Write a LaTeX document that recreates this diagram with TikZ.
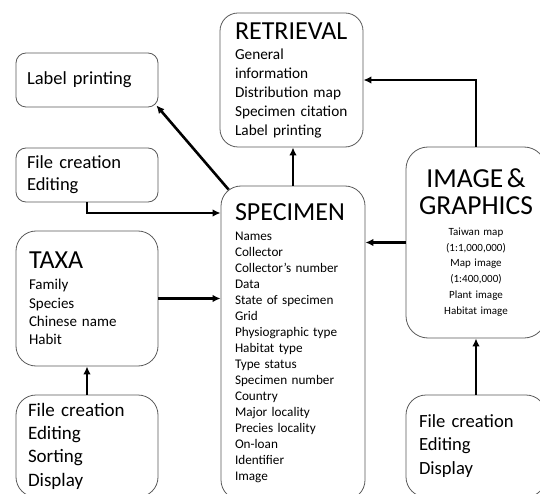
\documentclass[tikz,border=0pt]{standalone}
\usepackage{fontspec}
\setmainfont{Carlito}
\usetikzlibrary{arrows.meta}
\newcommand\boxhead[1]{{\fontsize{26pt}{26pt}\selectfont #1}}
\newcommand\imghead[1]{{\fontsize{27.5pt}{28pt}\selectfont #1}}

\begin{document}
\begin{tikzpicture}[x=1pt,y=-1pt,
        box/.style={draw=black!65,line width=0.8pt,rounded corners=#1,inner sep=0pt,align=left},
        box/.default=10pt,
        arr/.style={line width=2.6pt,-{Latex[length=8pt,width=7.5pt]}}]
        \useasboundingbox (0,0) rectangle (540,494);
        \clip (0,0) rectangle (540,494);
        % left column
        \node[box,minimum width=142pt,minimum height=54pt,text width=120pt,font=\fontsize{18.5pt}{22pt}\selectfont] (labelbox) at (87,80) {Label printing};
        \node[box,minimum width=142pt,minimum height=54pt,text width=120pt,font=\fontsize{18.5pt}{22pt}\selectfont] (filebox) at (87,175) {File creation\\Editing};
        \node[box=20pt,minimum width=142pt,minimum height=135pt,text width=116pt,font=\fontsize{15pt}{18.3pt}\selectfont] (taxa) at (87,298.5) {\boxhead{TAXA}\\[3pt]Family\\Species\\Chinese name\\Habit};
        \node[box=20pt,minimum width=142pt,minimum height=102pt,text width=118pt,font=\fontsize{19pt}{23.3pt}\selectfont] (taxaops) at (87,446) {File creation\\Editing\\Sorting\\Display};
        % middle column
        \node[box=18pt,minimum width=143pt,minimum height=134pt,text width=113pt,font=\fontsize{15.3pt}{19pt}\selectfont] (retr) at (291.5,80) {\boxhead{RETRIEVAL}\\[1pt]General\\information\\Distribution map\\Specimen citation\\Label printing};
        \node[box=20pt,minimum width=144pt,minimum height=314pt,text width=116pt,font=\fontsize{13.2pt}{16pt}\selectfont] (spec) at (293,343) {\boxhead{SPECIMEN}\\[4pt]Names\\Collector\\Collector's number\\Data\\State of specimen\\Grid\\Physiographic type\\Habitat type\\Type status\\Specimen number\\Country\\Major locality\\Precies locality\\On-loan\\Identifier\\Image};
        % right column
        \node[box=22pt,minimum width=140pt,minimum height=191pt,text width=130pt,align=center,font=\fontsize{11pt}{15.7pt}\selectfont] (img) at (476,242.5) {\imghead{IMAGE \&}\\[8pt]\imghead{GRAPHICS}\\[5pt]Taiwan map\\(1:1,000,000)\\Map image\\(1:400,000)\\Plant image\\Habitat image};
        \node[box=20pt,minimum width=140pt,minimum height=102pt,text width=114pt,font=\fontsize{18.6pt}{23.3pt}\selectfont] (imgops) at (476,446) {File creation\\Editing\\Display};
        % connectors
        \draw[arr] (filebox.south) |- (spec.west |- 0,213);
        \draw[arr] ([shift={(8,4)}]spec.north west) -- ([shift={(-2,-2)}]labelbox.south east);
        \draw[arr] (spec.north) -- (spec.north |- retr.south);
        \draw[arr] (taxa.east) -- (taxa.east -| spec.west);
        \draw[arr] (taxaops.north) -- (taxa.south);
        \draw[arr] (img.west) -- (img.west -| spec.east);
        \draw[arr] (img.north) |- (retr.east);
        \draw[arr] (imgops.north) -- (img.south);
\end{tikzpicture}
\end{document}
